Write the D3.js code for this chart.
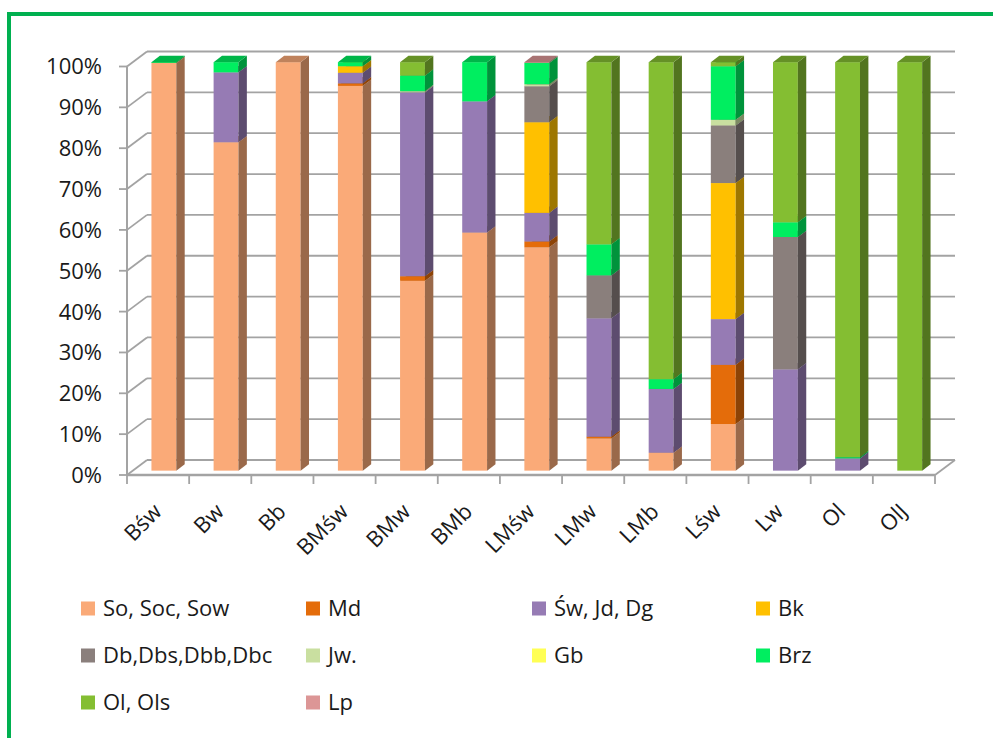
<!DOCTYPE html>
<html><head><meta charset="utf-8">
<script src="https://cdn.jsdelivr.net/npm/d3@7"></script>
<style>html,body{margin:0;padding:0;background:#fff;}svg{display:block;font-family:"Open Sans",sans-serif;}</style>
</head><body>
<svg id="c" width="993" height="738"></svg>
<script>
// ---- data (percent shares) ----
const categories = ["Bśw","Bw","Bb","BMśw","BMw","BMb","LMśw","LMw","LMb","Lśw","Lw","Ol","OlJ"];
const seriesNames = ["So, Soc, Sow","Md","Św, Jd, Dg","Bk","Db,Dbs,Dbb,Dbc","Jw.","Gb","Brz","Ol, Ols","Lp"];
const seriesColors = ["#FAAA78","#E46C0A","#967BB4","#FFC000","#8A7F7C","#C9DFA0","#FFFF55","#00EE60","#84BE32","#DC9696"];
const So  = [99.8, 80.4, 100, 94.2, 46.5, 58.3, 54.7,  7.9,  4.4, 11.4,  0,    0,    0];
const Md  = [0,     0,     0,  0.6,  1.1,  0,    1.4,  0.4,  0,   14.5,  0,    0,    0];
const Sw  = [0,    17.1,   0,  2.6, 45.0, 32.1,  7.0, 29.0, 15.6, 11.2, 24.8,  3.0,  0];
const Bk  = [0,     0,     0,  1.6,  0,    0,   22.2,  0,    0,   33.3,  0,    0,    0];
const Db  = [0,     0,     0,  0,    0,    0,    8.8, 10.5,  0,   14.1, 32.4,  0,    0];
const Jw  = [0,     0,     0,  0,    0.3,  0,    0.5,  0,    0,    1.4,  0,    0,    0];
const Gb  = [0,     0,     0,  0,    0,    0,    0,    0,    0,    0,    0,    0,    0];
const Brz = [0.2,   2.5,   0,  1.0,  3.8,  9.6,  5.2,  7.6,  2.4, 13.1,  3.6,  0.3,  0];
const Ol  = [0,     0,     0,  0,    3.3,  0,    0,   44.6, 77.6,  1.0, 39.2, 96.7, 100];
const Lp  = [0,     0,     0,  0,    0,    0,    0.2,  0,    0,    0,    0,    0,    0];
const seriesValues = [So, Md, Sw, Bk, Db, Jw, Gb, Brz, Ol, Lp];
const yTicks = [0,0.1,0.2,0.3,0.4,0.5,0.6,0.7,0.8,0.9,1];

// ---- layout ----
const svg = d3.select("#c");
const X0 = 127, X1 = 935, YB = 475, YT = 66.5;
const DX = 20, DY = -15;          // full depth offset of the 3D box
const Z0 = 0.29, Z1 = 0.71;       // bar depth span
const x = d3.scaleBand().domain(categories).range([X0, X1]).paddingInner(0).paddingOuter(0);
const y = d3.scaleLinear().domain([0, 1]).range([YB, YT]);
const gridC = "#a3a3a3";

// border frame
svg.append("path").attr("d", "M9,738 L9,14 L993,14").attr("fill","none")
   .attr("stroke","#00B050").attr("stroke-width",4);

// walls / gridlines
const grid = svg.append("g").attr("stroke", gridC).attr("stroke-width", 1.8).attr("fill","none");
yTicks.forEach(t => {
  const yy = y(t);
  grid.append("line").attr("x1", X0).attr("y1", yy).attr("x2", X0 + DX).attr("y2", yy + DY);
  grid.append("line").attr("x1", X0 + DX).attr("y1", yy + DY).attr("x2", X1 + DX).attr("y2", yy + DY);
});
// floor front + right edge
grid.append("line").attr("x1", X0).attr("y1", YB).attr("x2", X1).attr("y2", YB).attr("stroke-width", 2.4);
grid.append("line").attr("x1", X1).attr("y1", YB).attr("x2", X1 + DX).attr("y2", YB + DY);
// value axis line and ticks
grid.append("line").attr("x1", X0).attr("y1", y(1)).attr("x2", X0).attr("y2", YB).attr("stroke-width", 2);
yTicks.forEach(t => grid.append("line").attr("x1", X0 - 8).attr("y1", y(t)).attr("x2", X0).attr("y2", y(t)));
// category ticks
categories.concat([null]).forEach((c, i) => {
  const xx = X0 + i * x.bandwidth();
  grid.append("line").attr("x1", xx).attr("y1", YB).attr("x2", xx).attr("y2", YB + 9);
});

// y labels
svg.append("g").selectAll("text").data(yTicks).join("text")
  .attr("x", 102).attr("y", d => y(d)).attr("dy", "0.36em")
  .attr("text-anchor", "end").attr("font-size", 22).attr("fill", "#1a1a1a")
  .text(d => Math.round(d * 100) + "%");

// x labels
svg.append("g").selectAll("text").data(categories).join("text")
  .attr("transform", d => `translate(${x(d) + x.bandwidth() / 2 + 5},513) rotate(-45)`)
  .attr("text-anchor", "end").attr("font-size", 22).attr("fill", "#1a1a1a")
  .text(d => d);

// bars
const shade = (c, k) => d3.rgb(c).darker(k).formatHex();
const barW = x.bandwidth() * 0.4;
const bars = svg.append("g");
categories.forEach((cat, i) => {
  const total = d3.sum(seriesValues, s => s[i]);
  let acc = 0;
  const xl = x(cat) + (x.bandwidth() - barW) / 2;
  seriesValues.forEach((s, k) => {
    const v = s[i] / total;
    if (v <= 0) return;
    const v0 = acc, v1 = acc + v; acc = v1;
    const c = seriesColors[k];
    const fx0 = xl + Z0 * DX, fx1 = xl + barW + Z0 * DX;
    const ya = y(v0) + Z0 * DY, yb = y(v1) + Z0 * DY;
    const ddx = (Z1 - Z0) * DX, ddy = (Z1 - Z0) * DY;
    // front
    bars.append("rect").attr("x", fx0).attr("y", yb).attr("width", fx1 - fx0).attr("height", ya - yb).attr("fill", c);
    // side
    bars.append("path").attr("d", `M${fx1},${ya}L${fx1 + ddx},${ya + ddy}L${fx1 + ddx},${yb + ddy}L${fx1},${yb}Z`)
      .attr("fill", shade(c, 1.35));
    // top
    bars.append("path").attr("d", `M${fx0},${yb}L${fx1},${yb}L${fx1 + ddx},${yb + ddy}L${fx0 + ddx},${yb + ddy}Z`)
      .attr("fill", shade(c, 0.75));
  });
});

// legend
const legX = [81, 306, 532, 756], legY = [608.5, 655.5, 702.5];
const leg = svg.append("g");
seriesNames.forEach((n, k) => {
  const col = k % 4, row = Math.floor(k / 4);
  const g = leg.append("g").attr("transform", `translate(${legX[col]},${legY[row]})`);
  g.append("rect").attr("x", 0).attr("y", -7).attr("width", 14).attr("height", 14).attr("fill", seriesColors[k]);
  g.append("text").attr("x", 22).attr("y", 0).attr("dy", "0.36em").attr("font-size", 22).attr("fill", "#1a1a1a").text(n);
});
</script>
</body></html>
